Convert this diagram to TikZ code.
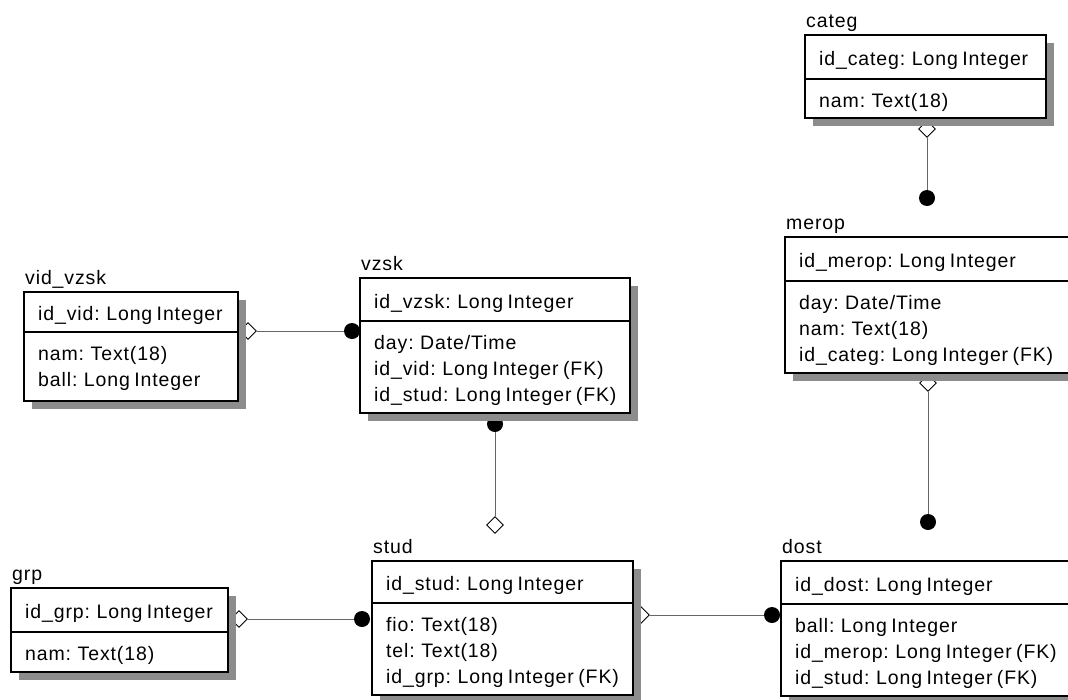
\documentclass[tikz,border=0pt]{standalone}
\usepackage{fontspec}
\setmainfont{Liberation Sans}[LetterSpace=4.5,WordSpace=0.7]
\usetikzlibrary{shapes.geometric}
\tikzset{
 tbox/.style={draw=black, fill=white, line width=1.2pt, inner sep=0pt, outer sep=0pt, anchor=north west},
 shadowc/.style={fill=black!45},
 txt/.style={inner sep=0pt, anchor=base west, font=\fontsize{19.5}{22}\selectfont},
 conn/.style={draw=black!60, line width=0.8pt},
 fkend/.style={circle, fill=black, inner sep=0pt, minimum size=16pt},
 pkend/.style={diamond, draw=black, fill=white, line width=0.9pt, inner sep=0pt, minimum size=17pt, aspect=1},
}
\newcommand\ertable[9]{%
 \fill[shadowc] (#2+8,#3+8) rectangle (#4+8,#6+8);
 \node[tbox, minimum width={(#4-#2)*1pt}, minimum height={(#6-#3)*1pt}] (#1) at (#2,#3) {};
 \draw[line width=1.2pt] (#2,#5) -- (#4,#5);
 \node[txt] (#1-title) at (#2+1,#3-8) {#7};
 \node[txt] (#1-key) at (#2+14,{(#3+#5)/2+8.5}) {#8};
 \foreach \t [count=\i from 0] in {#9} {
   \node[txt] (#1-a\i) at (#2+14,{#5+28+26*\i}) {\t};
 }
}
\begin{document}
\begin{tikzpicture}[x=1pt,y=-1pt]
\useasboundingbox (0,0) rectangle (1068,699);
\clip (0,0) rectangle (1068,699);
% connectors
\node[pkend] (d1) at (927,129) {};
\node[fkend] (c1) at (927,198) {};
\draw[conn] (d1) -- (c1);
\node[pkend] (d2) at (928,383) {};
\node[fkend] (c2) at (928,522) {};
\draw[conn] (d2) -- (c2);
\node[pkend] (d3) at (248,331) {};
\node[fkend] (c3) at (352,331) {};
\draw[conn] (d3) -- (c3);
\node[fkend] (c4) at (495,424) {};
\node[pkend] (d4) at (495,525) {};
\draw[conn] (c4) -- (d4);
\node[pkend] (d5) at (239,619) {};
\node[fkend] (c5) at (362,619) {};
\draw[conn] (d5) -- (c5);
\node[pkend] (d6) at (641,615) {};
\node[fkend] (c6) at (772,615) {};
\draw[conn] (d6) -- (c6);
% tables
\ertable{categ}{805}{35}{1046}{79}{118}{categ}{id\_categ: Long Integer}{{nam: Text(18)}}
\ertable{merop}{785}{237}{1076}{281}{373}{merop}{id\_merop: Long Integer}{{day: Date/Time},{nam: Text(18)},{id\_categ: Long Integer (FK)}}
\ertable{vidvzsk}{24}{292}{238}{332}{401}{vid\_vzsk}{id\_vid: Long Integer}{{nam: Text(18)},{ball: Long Integer}}
\ertable{vzsk}{360}{278}{630}{321}{413}{vzsk}{id\_vzsk: Long Integer}{{day: Date/Time},{id\_vid: Long Integer (FK)},{id\_stud: Long Integer (FK)}}
\ertable{grp}{11}{588}{228}{632}{672}{grp}{id\_grp: Long Integer}{{nam: Text(18)}}
\ertable{stud}{372}{561}{633}{603}{695}{stud}{id\_stud: Long Integer}{{fio: Text(18)},{tel: Text(18)},{id\_grp: Long Integer (FK)}}
\ertable{dost}{781}{561}{1076}{604}{696}{dost}{id\_dost: Long Integer}{{ball: Long Integer},{id\_merop: Long Integer (FK)},{id\_stud: Long Integer (FK)}}
\end{tikzpicture}
\end{document}
